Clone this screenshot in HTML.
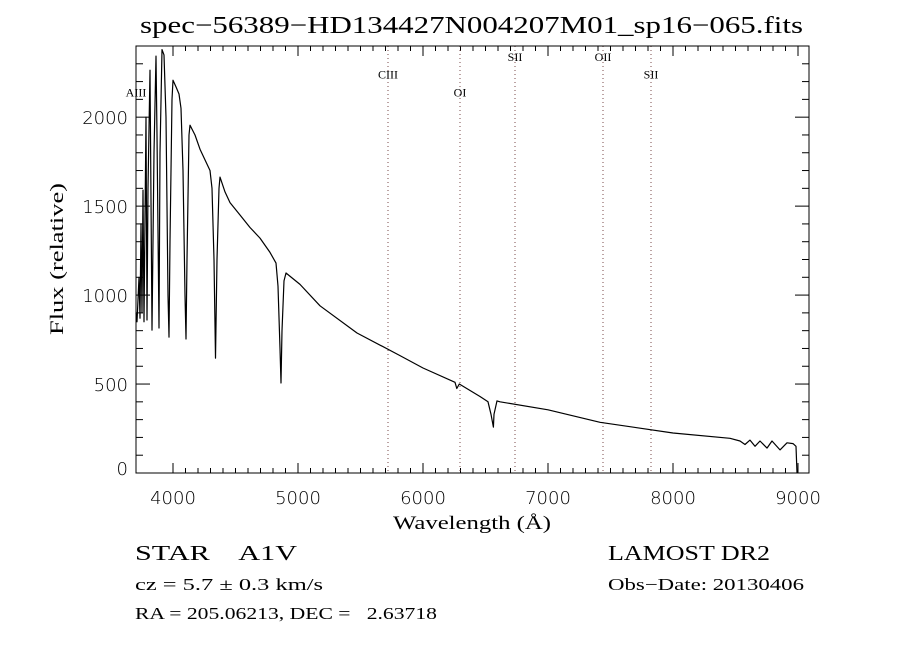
<!DOCTYPE html>
<html><head><meta charset="utf-8">
<style>
html,body{margin:0;padding:0;background:#fff;}
svg{display:block;font-family:"Liberation Serif",serif;}
</style></head>
<body>
<svg id="chart" width="900" height="650" viewBox="0 0 900 650" xmlns="http://www.w3.org/2000/svg">
<rect x="0" y="0" width="900" height="650" fill="#fff"/>
<text x="140" y="33" font-size="24" textLength="663" lengthAdjust="spacingAndGlyphs" font-family="Liberation Serif, serif">spec−56389−HD134427N004207M01_sp16−065.fits</text>
<g id="ticks"></g>
<g id="lines"></g>
<g id="series"></g>
<rect x="136" y="46" width="673" height="427" fill="none" stroke="#000" stroke-width="1"/>
<text x="393" y="529" font-size="19" textLength="158" lengthAdjust="spacingAndGlyphs">Wavelength (Å)</text>
<text transform="translate(63,335) rotate(-90)" font-size="19" textLength="152" lengthAdjust="spacingAndGlyphs">Flux (relative)</text>
<text x="135" y="560" font-size="21" xml:space="preserve" textLength="162" lengthAdjust="spacingAndGlyphs">STAR    A1V</text>
<text x="135" y="590" font-size="17" textLength="188" lengthAdjust="spacingAndGlyphs">cz = 5.7 ± 0.3 km/s</text>
<text x="135" y="619" font-size="17" xml:space="preserve" textLength="302" lengthAdjust="spacingAndGlyphs">RA = 205.06213, DEC =   2.63718</text>
<text x="608" y="560" font-size="21" textLength="162" lengthAdjust="spacingAndGlyphs">LAMOST DR2</text>
<text x="608" y="590" font-size="17" textLength="196" lengthAdjust="spacingAndGlyphs">Obs−Date: 20130406</text>
</svg>
<script>
const wavelengths=[3704,3712,3728,3736,3744,3752,3760,3768,3784,3792,3800,3816,3832,3848,3864,3872,3888,3896,3912,3928,3944,3960,3968,3976,3992,4000,4024,4048,4064,4080,4096,4104,4112,4128,4136,4176,4216,4256,4296,4312,4328,4340,4352,4368,4376,4416,4456,4536,4616,4696,4776,4824,4840,4856,4864,4872,4888,4904,5016,5176,5472,5816,6000,6256,6270,6290,6456,6520,6544,6563,6568,6592,6616,7000,7416,8000,8456,8536,8576,8616,8656,8696,8752,8792,8856,8912,8960,8984,8992];
const fluxes=[900,850,1100,870,1400,900,1590,850,2000,860,1600,2264,803,1800,2343,1900,815,1800,2380,2350,2000,1000,764,1300,2100,2208,2170,2130,2050,1700,1000,753,1200,1900,1955,1900,1820,1760,1700,1600,1200,646,1200,1600,1663,1580,1520,1450,1380,1320,1240,1180,1050,700,506,800,1080,1124,1060,940,787,660,590,510,475,500,430,400,330,258,330,405,400,355,285,225,195,180,160,185,150,180,140,180,130,170,165,150,0];
const xTicks=[4000,5000,6000,7000,8000,9000];
const yTicks=[0,500,1000,1500,2000];
const lineNames=["AIII","CIII","OI","SII","OII","SII"];
const lineWaves=[3704,5720,6296,6736,7440,7824];
const lineLabelY=[2100,2200,2100,2300,2300,2200];

const NS="http://www.w3.org/2000/svg";
const L=136,R=809,T=46,B=473,XMIN=3704,XMAX=9088,YMIN=0,YMAX=2400;
function xs(v){return L+(v-XMIN)/(XMAX-XMIN)*(R-L);}
function ys(v){return B-(v-YMIN)/(YMAX-YMIN)*(B-T);}
function mk(tag,attrs,parent){const e=document.createElementNS(NS,tag);for(const k in attrs)e.setAttribute(k,attrs[k]);parent.appendChild(e);return e;}

const tg=document.getElementById('ticks');
for(let v=4000;v<=9000;v+=100){
  const major=v%1000===0;const len=major?10:5;const x=xs(v);
  const t1=mk('line',{x1:x,x2:x,y1:B,y2:B-len,stroke:'#000'},tg);
  
  
  const t2=mk('line',{x1:x,x2:x,y1:T,y2:T+len,stroke:'#000'},tg);
  
  
}
xTicks.forEach(v=>{
  const t=mk('text',{x:xs(v),y:B+31,'font-size':18,'text-anchor':'middle','font-family':'DejaVu Sans, sans-serif','font-weight':'200'},tg);
  t.textContent=v;
  
  
});
for(let v=100;v<=2300;v+=100){
  const major=v%500===0;const len=major?14:7;const y=ys(v);
  const t1=mk('line',{x1:L,x2:L+len,y1:y,y2:y,stroke:'#000'},tg);
  
  
  const t2=mk('line',{x1:R,x2:R-len,y1:y,y2:y,stroke:'#000'},tg);
  
  
}
yTicks.forEach(v=>{
  const t=mk('text',{x:128,y:ys(v)+7-(v===0?5:0),'font-size':18,'text-anchor':'end','font-family':'DejaVu Sans, sans-serif','font-weight':'200'},tg);
  t.textContent=v;
  
  
});

const lg=document.getElementById('lines');
lineWaves.forEach((w,i)=>{
  const x=xs(w);
  const l=mk('line',{x1:x,x2:x,y1:T,y2:B,stroke:'#7a4a4a','stroke-width':1,'stroke-dasharray':'1,3'},lg);
  
  
  const t=mk('text',{x:x,y:ys(lineLabelY[i])-3,'font-size':12,'text-anchor':'middle'},lg);
  t.textContent=lineNames[i];
  
  
});

const sg=document.getElementById('series');
let d='';
wavelengths.forEach((w,i)=>{d+=(i?'L':'M')+xs(w).toFixed(1)+','+ys(fluxes[i]).toFixed(1);});
const p=mk('path',{d:d,fill:'none',stroke:'#000','stroke-width':1.2,'stroke-linejoin':'round'},sg);


</script>
</body></html>
